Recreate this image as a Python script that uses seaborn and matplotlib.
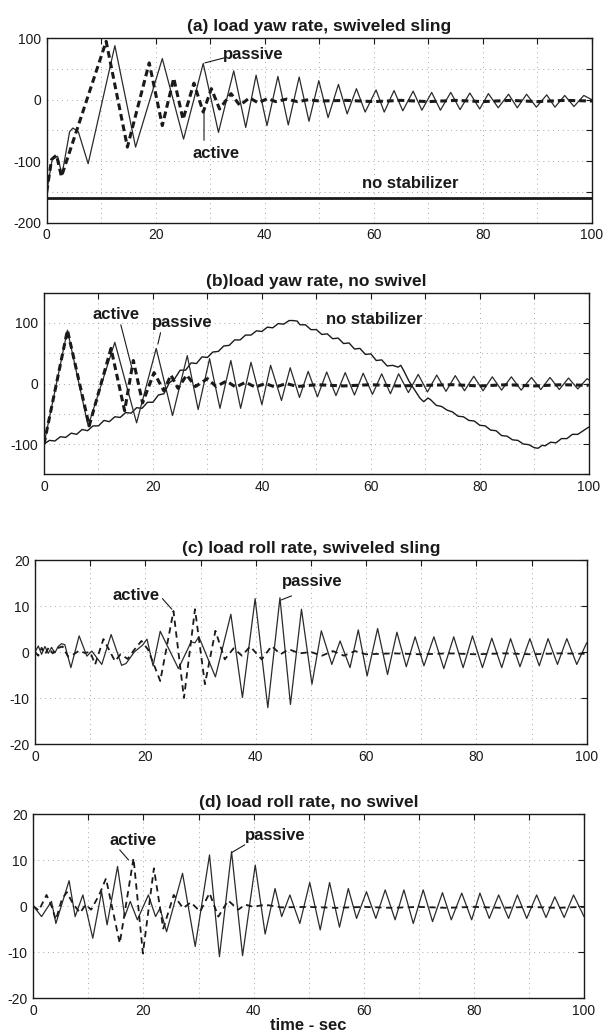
import numpy as np
import pandas as pd
import seaborn as sns
import matplotlib
matplotlib.use("Agg")
import matplotlib.pyplot as plt
from matplotlib.ticker import MultipleLocator

# ---------------- data (time in s, rates in deg/s) ----------------
# (a) load yaw rate, swiveled sling
a_passive_t = [0, 1.0, 2.0, 2.8, 4.2, 4.8, 5.8, 7.6, 12.5, 16.3, 21.2, 25.1, 28.7, 31.5,
               34.3, 36.5, 38.4, 40.4, 42.4, 44.3, 46.3, 48.1, 49.9, 51.6, 53.5, 55.1,
               56.8, 58.4, 60.4, 61.9, 63.7, 65.3, 67.2, 68.8, 70.6, 72.2, 74.1, 75.8,
               77.6, 79.4, 81.0, 82.8, 84.7, 86.3, 88.0, 89.8, 91.7, 93.2, 95.0, 96.7,
               98.5, 100]
a_passive_v = [-150, -97, -92, -122, -52, -46, -52, -104, 88, -77, 67, -64, 59, -53,
               47, -45, 40, -42, 38, -41, 37, -35, 31, -29, 25, -23,
               18, -20, 16, -20, 15, -18, 14, -17, 12, -17, 12, -16,
               11, -15, 10, -13, 9, -13, 9, -12, 8, -12, 7, -11,
               7, 0]
a_active_t = [0, 0.9, 1.8, 2.7, 10.9, 14.8, 18.8, 21.2, 23.3, 25.0, 27.0, 28.7, 30.2,
              31.7, 33.8, 35.4, 37.2, 38.8, 40.5, 42.0, 44.0, 46.0, 48.0, 50.0, 55.0,
              60.0, 65.0, 70.0, 75.0, 80.0, 85.0, 90.0, 95.0, 100.0]
a_active_v = [-150, -97, -90, -125, 95, -77, 60, -42, 35, -32, 27, -20, 18,
              -15, 10, -9, 3, -5, 2, -3, 1, -3, 0, -2, -1,
              -3, -1, -3, -1, -3, -1, -3, -1, -2]
a_nostab_t = [0, 100]
a_nostab_v = [-160, -160]

# (b) load yaw rate, no swivel
b_passive_t = [0, 4.3, 8.1, 13.0, 17.0, 20.6, 23.6, 26.3, 28.3, 30.4, 32.3, 34.3, 36.1,
               38.0, 40.0, 41.6, 43.6, 45.2, 46.9, 48.5, 50.2, 51.9, 53.6, 55.3, 57.0,
               58.6, 60.3, 62.0, 63.6, 65.1, 66.9, 68.7, 70.4, 72.1, 73.8, 75.5, 77.2,
               78.9, 80.6, 82.3, 84.0, 85.8, 87.6, 89.5, 91.2, 92.9, 94.6, 96.3, 98.0,
               99.7, 100]
b_passive_v = [-100, 88, -70, 68, -65, 58, -53, 46, -43, 41, -41, 38, -41,
               35, -35, 30, -28, 26, -23, 20, -22, 19, -20, 18, -19,
               17, -18, 16, -17, 16, -15, 15, -14, 14, -13, 13, -12,
               12, -12, 11, -11, 11, -11, 10, -10, 10, -10, 9, -9,
               8, 6]
b_active_t = [0, 4.3, 8.3, 12.3, 14.8, 16.4, 18.1, 20.2, 22.0, 23.3, 24.6, 26.2, 27.8,
              30.0, 31.6, 33.5, 35.2, 37.0, 38.8, 40.6, 42.5, 44.5, 46.5, 50, 55, 60,
              65, 70, 75, 80, 85, 90, 95, 100]
b_active_v = [-100, 88, -70, 58, -45, 38, -32, 18, -12, 14, -8, 14, -5,
              8, -5, 4, -6, 2, -6, 0, -6, 0, -5, -2, -4, -2,
              -4, -3, -2, -4, -2, -4, -2, -3]
b_nostab_t = [0, 1, 2, 3, 4, 5, 6, 7, 8, 9, 10, 11, 12, 13, 14, 15, 16, 17, 18, 19,
              20, 21, 22, 23, 24, 25, 26, 27, 28, 29, 30, 31, 32, 33, 34, 35, 36, 37,
              38, 39, 40, 41, 42, 43, 44, 45, 45.7, 46.5, 47, 48, 49, 50, 51, 52, 53,
              54, 55, 56, 57, 58, 59, 60, 61, 62, 63, 64, 65, 65.5, 66, 67, 68, 69,
              69.7, 70.5, 71, 72, 73, 74, 75, 76, 77, 78, 79, 80, 81, 82, 83, 84, 85,
              86, 87, 88, 89, 90, 90.7, 91.5, 92, 93, 94, 95, 96, 97, 98, 99, 100]
b_nostab_v = [-100, -94, -95, -88, -89, -82, -84, -76, -78, -70, -70, -61, -63, -55,
              -56, -48, -49, -40, -41, -31, -31, -19, -17, 1, 8, 22, 22, 34, 33, 44,
              43, 52, 53, 62, 63, 72, 72, 80, 80, 87, 86, 93, 92, 99, 98, 104, 104,
              103, 97, 97, 89, 89, 81, 82, 74, 75, 66, 67, 57, 58, 48, 49, 38, 39, 29,
              30, 27, 30, 22, 4, -10, -24, -30, -24, -27, -36, -38, -44, -47, -54, -55,
              -61, -62, -69, -70, -77, -78, -86, -87, -93, -94, -100, -101, -106, -107,
              -102, -103, -97, -98, -91, -91, -84, -84, -78, -72]

# (c) load roll rate, swiveled sling
c_passive_t = [0, 0.6, 1.2, 1.8, 2.4, 3.0, 3.6, 4.2, 4.8, 5.4, 6.5, 8.0, 9.4, 10.3,
               12.1, 13.8, 15.7, 16.5, 18.0, 19.5, 20.3, 21.4, 22.7, 26.0, 28.3, 29.0,
               29.7, 32.7, 35.5, 37.6, 39.9, 42.2, 44.4, 46.3, 48.3, 50.2, 51.9, 53.8,
               55.3, 57.1, 58.6, 60.2, 62.1, 63.9, 65.6, 67.3, 68.9, 70.5, 72.3, 74.1,
               75.9, 77.6, 79.3, 81.1, 82.8, 84.6, 86.2, 87.9, 89.7, 91.4, 93.0, 94.7,
               96.4, 98.2, 100]
c_passive_v = [0, 1.3, -0.5, 1.2, -0.3, 1.0, -0.2, 1.2, 1.8, 1.6, -3.4, 3.5, -0.9, 0.2,
               -2.7, 3.8, -2.9, -2.5, 0.0, 1.5, 2.8, -3.0, 4.5, -3.6, 2.2, 2.0,
               3.3, -5.4, 8.2, -9.9, 11.6, -12.1, 11.8, -11.4, 9.3, -7.0, 4.6, -2.7,
               2.4, -3.4, 4.8, -5.2, 5.1, -4.9, 4.3, -3.2, 3.3, -3.0, 3.3, -3.6,
               3.3, -3.4, 3.5, -3.4, 3.0, -3.4, 2.9, -3.2, 2.9, -3.0, 2.9, -2.7,
               2.9, -2.7, 2.0]
c_active_t = [0, 0.6, 1.2, 1.8, 2.5, 3.2, 4.0, 5.0, 6.0, 7.0, 8.0, 9.0, 10.0, 10.9,
              12.4, 13.2, 14.5, 15.5, 16.8, 18.0, 19.3, 20.5, 22.7, 25.1, 27.0, 29.0,
              30.8, 32.7, 34.4, 36.0, 37.5, 39.0, 41.1, 42.9, 44.5, 46.0, 48.0, 50, 52,
              54, 56, 58, 60, 65, 70, 75, 80, 85, 90, 95, 100]
c_active_v = [0, -0.8, 0.9, -0.5, 1.0, -0.3, 0.8, 1.2, -1.0, -0.5, 0.3, -0.2, 0, -2.7,
              2.8, 1.0, -2.0, -0.5, -1.5, 0.5, 2.4, 0.5, -6.3, 8.9, -10.0, 9.3,
              -7.0, 4.6, -1.6, 0.8, -0.8, 1.2, -1.6, 1.3, -0.5, 0.6, -0.3, 0, -0.8,
              0.2, -0.8, 0.2, -0.5, -0.3, -0.5, -0.3, -0.5, -0.3, -0.5, -0.3, -0.4]

# (d) load roll rate, no swivel
d_passive_t = [0, 1.5, 3.3, 4.1, 6.5, 7.6, 9.0, 10.8, 12.4, 13.4, 15.3, 16.6, 17.6, 18.9,
               20.9, 22.2, 23.0, 24.2, 27.1, 29.4, 32.0, 33.8, 36.0, 38.0, 40.3, 42.1,
               43.9, 45.1, 46.6, 48.4, 50.2, 52.1, 53.8, 55.6, 57.2, 58.7, 60.5, 62.2,
               63.9, 65.7, 67.3, 69.0, 70.8, 72.5, 74.3, 75.9, 77.8, 79.6, 81.1, 82.8,
               84.5, 86.3, 87.9, 89.6, 91.4, 93.1, 94.7, 96.4, 98.1, 100]
d_passive_v = [0, -2.3, 1.0, -3.8, 5.5, -2.3, 2.4, -7.0, 3.1, -4.1, 8.6, -2.3, 1.0, -3.0,
               2.4, -2.3, -0.5, -5.6, 7.1, -8.8, 11.1, -11.0, 11.8, -10.8, 8.9, -6.1,
               3.8, -2.3, 2.4, -3.8, 5.1, -5.2, 5.1, -4.6, 3.8, -2.7, 3.1, -2.7,
               3.5, -3.0, 3.5, -3.8, 3.5, -3.4, 2.9, -3.0, 2.8, -3.0, 2.8, -2.7,
               2.4, -2.7, 2.4, -2.7, 2.4, -2.5, 2.0, -2.5, 2.4, -2.3]
d_active_t = [0, 1.0, 2.4, 3.3, 4.1, 5.2, 6.1, 7.2, 8.5, 9.5, 10.5, 12.0, 13.2, 15.7,
              18.2, 19.9, 21.9, 23.6, 25.5, 27.2, 28.6, 30.3, 32.0, 33.6, 35.4, 37.2,
              38.5, 40, 42, 45, 50, 55, 60, 65, 70, 75, 80, 85, 90, 95, 100]
d_active_v = [0, -1.0, 2.4, 0.0, -3.0, 1.5, 3.0, 0.5, -1.5, 0.3, -0.8, 2.5, 6.0, -8.1,
              10.4, -10.3, 8.2, -4.9, 2.4, -0.5, 0.8, -1.2, 2.8, -2.3, 1.2, -0.8,
              0.3, -0.2, 0.3, -0.3, -0.2, -0.4, -0.2, -0.4, -0.2, -0.4, -0.2, -0.4,
              -0.2, -0.4, -0.2]

titles = ["(a) load yaw rate, swiveled sling", "(b)load yaw rate, no swivel",
          "(c) load roll rate, swiveled sling", "(d) load roll rate, no swivel"]

# ---------------- style ----------------
sns.set_theme(style="white")
plt.rcParams["font.family"] = ["Liberation Sans", "DejaVu Sans"]
plt.rcParams["axes.unicode_minus"] = False

INK = "#1a1a1a"
THIN = "#2b2b2b"
GRID = "#a6a6a6"

fig = plt.figure(figsize=(6.04, 10.33), dpi=100)
W, H = 604.0, 1033.0


def box(left, right, top, bottom):
    return [left / W, 1 - bottom / H, (right - left) / W, (bottom - top) / H]


axes = [
    fig.add_axes(box(46.7, 592.0, 38.3, 222.7)),
    fig.add_axes(box(44.0, 588.7, 292.7, 474.3)),
    fig.add_axes(box(35.0, 586.7, 560.0, 744.0)),
    fig.add_axes(box(33.3, 584.0, 814.0, 998.0)),
]


def line(ax, t, v, lw, ls="-", color=INK):
    df = pd.DataFrame({"t": t, "v": v})
    sns.lineplot(data=df, x="t", y="v", ax=ax, color=color, linewidth=lw,
                 linestyle=ls, estimator=None, sort=False, errorbar=None,
                 legend=False)


def frame(ax, ylim, ymajor, yminor, title):
    ax.set_xlim(0, 100)
    ax.set_ylim(*ylim)
    ax.xaxis.set_major_locator(MultipleLocator(20))
    ax.xaxis.set_minor_locator(MultipleLocator(10))
    ax.yaxis.set_major_locator(MultipleLocator(ymajor))
    if yminor:
        ax.yaxis.set_minor_locator(MultipleLocator(yminor))
    ax.grid(True, which="both", color=GRID, linestyle=(0, (1, 4)), linewidth=0.7)
    ax.tick_params(which="both", direction="in", top=True, right=True,
                   length=4, width=0.8, color=INK)
    ax.tick_params(which="major", labelsize=10, pad=4, labelcolor=INK)
    for s in ax.spines.values():
        s.set_color(INK)
        s.set_linewidth(1.0)
    ax.set_xlabel("")
    ax.set_ylabel("")
    ax.set_title(title, fontsize=12.5, fontweight="bold", color=INK, pad=5)


def note(ax, text, xy_text, start=None, end=None):
    ax.text(*xy_text, text, ha="center", va="center", fontsize=12,
            fontweight="bold", color=INK)
    if start is not None:
        ax.annotate("", xy=end, xytext=start,
                    arrowprops=dict(arrowstyle="-", lw=0.8, color=INK,
                                    shrinkA=0, shrinkB=0))


THICK_DASH = (0, (2.2, 1.3))
THIN_DASH = (0, (3.5, 2.5))

# (a)
ax = axes[0]
line(ax, a_nostab_t, a_nostab_v, 2.0)
line(ax, a_passive_t, a_passive_v, 0.9, color=THIN)
line(ax, a_active_t, a_active_v, 2.2, THICK_DASH)
frame(ax, (-200, 100), 100, 50, titles[0])
note(ax, "passive", (37.8, 74), (32.5, 68), (29.0, 60))
note(ax, "active", (31.0, -87), (28.85, -66), (28.85, -17))
note(ax, "no stabilizer", (66.6, -136))

# (b)
ax = axes[1]
line(ax, b_nostab_t, b_nostab_v, 1.0)
line(ax, b_passive_t, b_passive_v, 0.9, color=THIN)
line(ax, b_active_t, b_active_v, 2.2, THICK_DASH)
frame(ax, (-150, 150), 100, 50, titles[1])
note(ax, "active", (13.2, 114), (14.1, 97), (16.1, 27))
note(ax, "passive", (25.3, 100), (21.4, 84), (20.9, 65))
note(ax, "no stabilizer", (60.6, 105))

# (c)
ax = axes[2]
line(ax, c_passive_t, c_passive_v, 0.9, color=THIN)
line(ax, c_active_t, c_active_v, 1.3, THIN_DASH)
frame(ax, (-20, 20), 10, None, titles[2])
note(ax, "active", (18.4, 12.3), (23.1, 11.6), (24.8, 9.3))
note(ax, "passive", (50.3, 15.4), (46.5, 12.2), (44.6, 11.3))

# (d)
ax = axes[3]
line(ax, d_passive_t, d_passive_v, 0.9, color=THIN)
line(ax, d_active_t, d_active_v, 1.3, THIN_DASH)
frame(ax, (-20, 20), 10, None, titles[3])
note(ax, "active", (18.2, 14.2), (15.7, 12.2), (17.3, 10.0))
note(ax, "passive", (44.0, 15.4), (38.4, 13.3), (36.0, 11.6))
ax.set_xlabel("time - sec", fontsize=12, fontweight="bold", color=INK, labelpad=0)

fig.savefig("out.png", dpi=100, facecolor="white")
